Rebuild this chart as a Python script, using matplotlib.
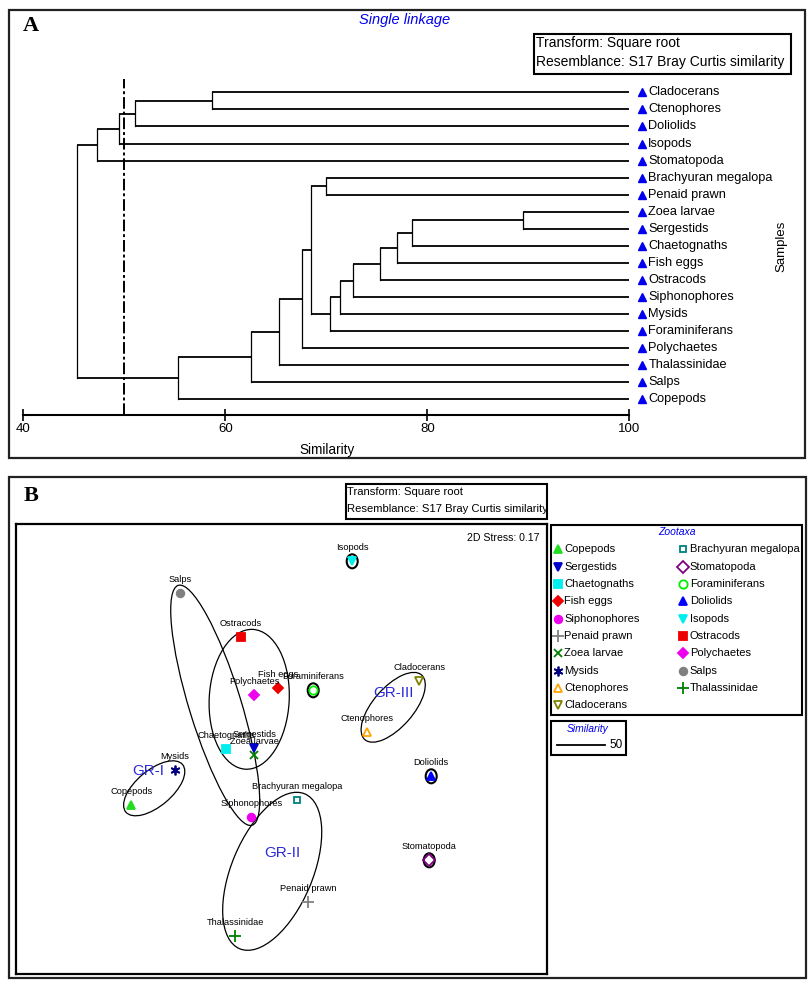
import matplotlib
matplotlib.use("Agg")
import matplotlib.pyplot as plt
from matplotlib.patches import Ellipse, Rectangle
from matplotlib.transforms import offset_copy

SANS = ["Liberation Sans", "DejaVu Sans"]
SERIF = ["Liberation Serif", "DejaVu Serif"]
plt.rcParams["font.family"] = SANS

# ---------------- Panel A: single linkage dendrogram ----------------
leaves = ["Cladocerans", "Ctenophores", "Doliolids", "Isopods", "Stomatopoda",
          "Brachyuran megalopa", "Penaid prawn", "Zoea larvae", "Sergestids",
          "Chaetognaths", "Fish eggs", "Ostracods", "Siphonophores", "Mysids",
          "Foraminiferans", "Polychaetes", "Thalassinidae", "Salps", "Copepods"]
# linkage in scipy style: new clusters numbered from len(leaves)
merge_a = [7, 19, 20, 21, 22, 23, 24, 5, 26, 27, 28, 29, 0, 30, 31, 33, 34, 35]
merge_b = [8, 9, 10, 11, 12, 13, 14, 6, 25, 15, 16, 17, 1, 18, 2, 3, 4, 32]
merge_sim = [89.5, 78.45, 76.97, 75.32, 72.6, 71.4, 70.4, 70.0, 68.45, 67.6,
             65.3, 62.5, 58.65, 55.35, 51.1, 49.45, 47.27, 45.3]
cut_level = 50
sim_ticks = [40, 60, 80, 100]

# ---------------- Panel B: nMDS ----------------
mds_names = ["Copepods", "Sergestids", "Chaetognaths", "Fish eggs", "Siphonophores",
             "Penaid prawn", "Zoea larvae", "Mysids", "Ctenophores", "Cladocerans",
             "Brachyuran megalopa", "Stomatopoda", "Foraminiferans", "Doliolids",
             "Isopods", "Ostracods", "Polychaetes", "Salps", "Thalassinidae"]
mds_x = [-1.50, -0.27, -0.55, -0.03, -0.30, 0.27, -0.27, -1.06, 0.86, 1.38,
         0.16, 1.48, 0.32, 1.50, 0.71, -0.40, -0.27, -1.01, -0.46]
mds_y = [-0.56, 0.01, 0.00, 0.61, -0.68, -1.53, -0.06, -0.21, 0.17, 0.68,
         -0.51, -1.11, 0.59, -0.27, 1.88, 1.12, 0.54, 1.56, -1.87]
stress = 0.17
group_names = ["GR-I", "GR-II", "GR-III"]
group_lx = [-1.33, 0.01, 1.12]
group_ly = [-0.22, -1.04, 0.56]
single_members = ["Isopods", "Foraminiferans", "Doliolids", "Stomatopoda"]

# marker styles (same order as mds_names)
mk = ["^", "v", "s", "D", "o", "+", "x", (6, 2, 0), "^", "v",
      "s", "D", "o", "^", "v", "s", "D", "o", "+"]
mc = ["#22dd22", "#0000cc", "#00eeee", "#ee0000", "#ee00ee", "#808080", "#008000",
      "#000080", "#ffa500", "#808000", "#008080", "#800080", "#00ee00", "#0000ff",
      "#00eeee", "#ee0000", "#ee00ee", "#808080", "#008000"]
filled = [True, True, True, True, True, True, True, True, False, False,
          False, False, False, True, True, True, True, True, True]
msz = [6, 6, 5.5, 5, 5.5, 8, 6, 7, 6, 6, 5, 6, 6, 6, 6, 5.5, 5, 5.5, 8]

W, H = 812, 985
fig = plt.figure(figsize=(W / 100, H / 100), dpi=100)


def px_axes(x0, y0, x1, y1, **kw):
    return fig.add_axes([x0 / W, 1 - y1 / H, (x1 - x0) / W, (y1 - y0) / H], **kw)


def marker_kw(i):
    if filled[i]:
        return dict(marker=mk[i], color=mc[i], ms=msz[i], mew=1.3, ls="none")
    return dict(marker=mk[i], color=mc[i], mfc="none", ms=msz[i], mew=1.3, ls="none")


# ---- dendrogram ----
ax = px_axes(23.3, 79, 629.3, 415)
n = len(leaves)
xpos = [100.0] * n
ypos = [float(i) for i in range(n)]
for a, b, s in zip(merge_a, merge_b, merge_sim):
    for c in (a, b):
        ax.plot([xpos[c], s], [ypos[c], ypos[c]], color="k", lw=1.3,
                solid_capstyle="butt")
    ax.plot([s, s], [ypos[a], ypos[b]], color="k", lw=0.9)
    xpos.append(s)
    ypos.append((ypos[a] + ypos[b]) / 2)

ax.axvline(cut_level, color="k", lw=1.4, ls=(0, (6, 1.5, 1.5, 1.5)))
ax.set_xlim(40, 100)
ax.set_ylim(18.91, -0.78)
for sp in ("left", "right", "top"):
    ax.spines[sp].set_visible(False)
ax.spines["bottom"].set_linewidth(1.5)
ax.set_yticks([])
ax.set_xticks(sim_ticks)
ax.tick_params(axis="x", direction="inout", length=8, width=1.2, pad=2,
               labelsize=9.5)
ax.patch.set_visible(False)

tri = offset_copy(ax.transData, fig=fig, x=13, y=0, units="dots")
ax.plot([100] * n, range(n), "^", color="#0000ee", ms=6, transform=tri,
        clip_on=False)
lab = offset_copy(ax.transData, fig=fig, x=19, y=0, units="dots")
for i, name in enumerate(leaves):
    ax.text(100, i, name, transform=lab, va="center", ha="left", fontsize=9.2,
            clip_on=False)

# ---- MDS ----
bx = px_axes(15.7, 524.3, 546.7, 974.3)
bx.set_xlim(-2.655, 2.655)
bx.set_ylim(-2.25, 2.25)
bx.set_xticks([])
bx.set_yticks([])
for sp in bx.spines.values():
    sp.set_linewidth(1.6)

ell_kw = dict(fill=False, ec="k", lw=0.9)
bx.add_patch(Ellipse((-1.27, -0.39), 0.74, 0.36, angle=40, **ell_kw))
bx.add_patch(Ellipse((-0.66, 0.44), 2.51, 0.52, angle=-72.9, **ell_kw))
bx.add_patch(Ellipse((-0.32, 0.50), 1.40, 0.80, angle=87, **ell_kw))
bx.add_patch(Ellipse((1.12, 0.42), 0.86, 0.40, angle=48.7, **ell_kw))
bx.add_patch(Ellipse((-0.09, -1.22), 1.68, 0.81, angle=67.2, **ell_kw))
for name in single_members:
    i = mds_names.index(name)
    bx.add_patch(Ellipse((mds_x[i], mds_y[i]), 0.11, 0.14, fill=False,
                         ec="k", lw=1.5))

for i, name in enumerate(mds_names):
    bx.plot(mds_x[i], mds_y[i], **marker_kw(i))
    bx.annotate(name, (mds_x[i], mds_y[i]), xytext=(0, 10),
                textcoords="offset points", ha="center", va="center",
                fontsize=6.7)

for g, gx, gy in zip(group_names, group_lx, group_ly):
    bx.text(gx, gy, g, color="#2a2ad8", fontsize=11, ha="center", va="center")

bx.text(0.9855, 0.970, f"2D Stress: {stress:.2f}", transform=bx.transAxes,
        ha="right", va="center", fontsize=7.6)

# ---- overlay in pixel coordinates for frames, boxes and legend ----
ov = fig.add_axes([0, 0, 1, 1], zorder=10)
ov.set_xlim(0, W)
ov.set_ylim(H, 0)
ov.axis("off")


def box(x0, y0, x1, y1, lw=1.5, ec="k"):
    ov.add_patch(Rectangle((x0, y0), x1 - x0, y1 - y0, fill=False, ec=ec, lw=lw))


box(9, 10, 805, 458, lw=1.6, ec="#222222")
box(9, 477, 806, 978, lw=1.6, ec="#222222")
ov.text(31, 26, "A", family=SERIF, weight="bold", fontsize=16, ha="center", va="center")
ov.text(31, 496, "B", family=SERIF, weight="bold", fontsize=16, ha="center", va="center")

ov.text(405, 20, "Single linkage", color="#0000ee", style="italic",
        fontsize=10.5, ha="center", va="center")
box(534.3, 34.3, 790.7, 74)
ov.text(536.5, 43.5, "Transform: Square root", fontsize=10, va="center")
ov.text(536.5, 62, "Resemblance: S17 Bray Curtis similarity", fontsize=10, va="center")
ov.text(327, 450, "Similarity", fontsize=9.8, ha="center", va="center")
ov.text(781, 246, "Samples", fontsize=9.5, ha="center", va="center", rotation=90)

box(345.7, 484, 546.7, 519)
ov.text(347.5, 492, "Transform: Square root", fontsize=8.1, va="center")
ov.text(347.5, 509.5, "Resemblance: S17 Bray Curtis similarity", fontsize=8.1,
        va="center")

# legend
box(550.7, 524.7, 801.7, 715)
ov.text(677, 532, "Zootaxa", color="#0000ee", style="italic",
        fontsize=7.5, ha="center", va="center")
n_col1 = 10
for i, name in enumerate(mds_names):
    col, row = divmod(i, n_col1)
    mx = 557.7 + col * 125.6
    my = 549.3 + row * 17.33
    ov.plot(mx, my, **marker_kw(i))
    ov.text(mx + 6.5, my, name, fontsize=8, va="center", ha="left")

box(551, 720.7, 626, 755)
ov.text(588, 728.5, "Similarity", color="#0000ee", style="italic",
        fontsize=7.5, ha="center", va="center")
ov.plot([557, 605], [745, 745], color="k", lw=1.3)
ov.text(609, 745, str(cut_level), fontsize=8.5, va="center", ha="left")

fig.savefig("out.png", dpi=100)
